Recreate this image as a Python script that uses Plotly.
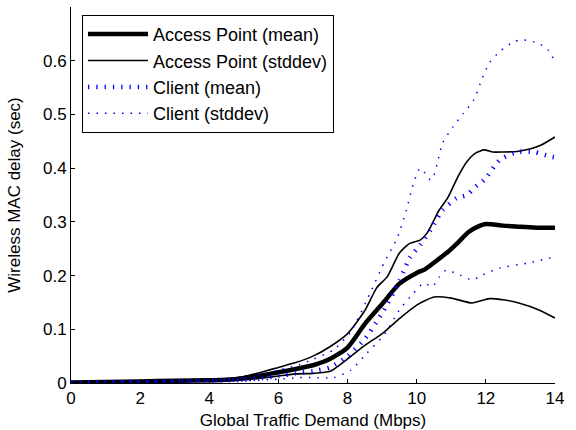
import plotly.graph_objects as go

# Access Point mean
ap_mean_x = [0, 1, 2, 3, 4, 4.5, 5, 5.5, 6, 6.5, 7, 7.5, 8, 8.5, 9, 9.5, 10, 10.25, 10.6, 10.9, 11.2, 11.5, 11.8, 12, 12.5, 13, 13.5, 14]
ap_mean_y = [0.001, 0.002, 0.003, 0.004, 0.005, 0.006, 0.009, 0.014, 0.02, 0.026, 0.033, 0.045, 0.066, 0.11, 0.147, 0.185, 0.205, 0.212, 0.229, 0.244, 0.262, 0.281, 0.292, 0.296, 0.293, 0.291, 0.289, 0.289]

# Access Point stddev (upper / lower)
ap_up_x = [0, 1, 2, 3, 4, 4.5, 5, 5.5, 6, 6.5, 7, 7.5, 8, 8.5, 8.85, 9.15, 9.5, 9.8, 10.1, 10.3, 10.65, 10.9, 11.2, 11.45, 11.7, 11.95, 12.2, 12.5, 12.9, 13.3, 13.6, 14]
ap_up_y = [0.002, 0.003, 0.004, 0.005, 0.007, 0.008, 0.012, 0.02, 0.029, 0.038, 0.05, 0.068, 0.092, 0.135, 0.178, 0.198, 0.242, 0.26, 0.266, 0.279, 0.322, 0.345, 0.385, 0.412, 0.428, 0.434, 0.43, 0.43, 0.431, 0.436, 0.443, 0.458]
ap_lo_x = [0, 1, 2, 3, 4, 5, 5.5, 6, 6.5, 7, 7.5, 8, 8.5, 9, 9.5, 10, 10.5, 11, 11.6, 12.1, 12.5, 13, 13.5, 14]
ap_lo_y = [0.001, 0.001, 0.002, 0.003, 0.004, 0.006, 0.009, 0.013, 0.017, 0.018, 0.022, 0.045, 0.07, 0.092, 0.12, 0.145, 0.16, 0.158, 0.149, 0.157, 0.155, 0.148, 0.137, 0.121]

# Client mean
cl_mean_x = [0, 1, 2, 3, 4, 5, 5.5, 6, 6.5, 7, 7.5, 8, 8.5, 9, 9.5, 9.8, 10.1, 10.4, 10.75, 11.15, 11.45, 11.75, 11.95, 12.4, 12.9, 13.4, 13.85, 14]
cl_mean_y = [0.001, 0.001, 0.002, 0.003, 0.004, 0.006, 0.009, 0.013, 0.018, 0.022, 0.029, 0.05, 0.082, 0.13, 0.19, 0.233, 0.257, 0.285, 0.322, 0.344, 0.35, 0.368, 0.378, 0.415, 0.43, 0.43, 0.422, 0.42]

# Client stddev (upper / lower)
cl_up_x = [0, 1, 2, 3, 4, 5, 5.5, 6, 6.6, 7, 7.6, 8.1, 8.65, 9.05, 9.45, 9.7, 9.9, 10.1, 10.25, 10.4, 10.5, 10.6, 10.75, 11.05, 11.35, 11.65, 11.9, 12.1, 12.4, 12.8, 13.05, 13.5, 13.8, 14]
cl_up_y = [0.002, 0.003, 0.004, 0.005, 0.006, 0.01, 0.016, 0.024, 0.034, 0.044, 0.062, 0.096, 0.167, 0.223, 0.272, 0.322, 0.37, 0.40, 0.39, 0.378, 0.387, 0.41, 0.447, 0.477, 0.502, 0.527, 0.568, 0.596, 0.617, 0.635, 0.639, 0.633, 0.62, 0.598]
cl_lo_x = [0, 1, 2, 3, 4, 5, 6, 6.6, 7, 7.6, 8.1, 8.55, 9.05, 9.5, 9.9, 10.2, 10.45, 10.65, 10.85, 11.25, 11.6, 11.9, 12.4, 13.2, 14]
cl_lo_y = [0, 0.001, 0.001, 0.002, 0.003, 0.004, 0.007, 0.01, 0.01, 0.01, 0.024, 0.055, 0.089, 0.136, 0.167, 0.186, 0.179, 0.197, 0.21, 0.201, 0.192, 0.201, 0.214, 0.223, 0.235]

x_ticks = [0, 2, 4, 6, 8, 10, 12, 14]
y_ticks = [0, 0.1, 0.2, 0.3, 0.4, 0.5, 0.6]
y_tick_text = ["0", "0.1", "0.2", "0.3", "0.4", "0.5", "0.6"]

FONT = "Liberation Sans, Arial, sans-serif"
BLUE = "#0000ff"
SPL = dict(shape="spline", smoothing=0.6)

fig = go.Figure()
fig.add_trace(go.Scatter(x=ap_mean_x, y=ap_mean_y, mode="lines", name="Access Point (mean)",
                         line=dict(color="black", width=4.5, **SPL)))
fig.add_trace(go.Scatter(x=ap_up_x, y=ap_up_y, mode="lines", name="Access Point (stddev)",
                         line=dict(color="black", width=1.6, **SPL), legendgroup="apsd"))
fig.add_trace(go.Scatter(x=ap_lo_x, y=ap_lo_y, mode="lines", name="Access Point (stddev)",
                         line=dict(color="black", width=1.6, **SPL), legendgroup="apsd", showlegend=False))
fig.add_trace(go.Scatter(x=cl_mean_x, y=cl_mean_y, mode="lines", name="Client (mean)",
                         line=dict(color=BLUE, width=4.5, dash="1.3px,7px", **SPL)))
fig.add_trace(go.Scatter(x=cl_up_x, y=cl_up_y, mode="lines", name="Client (stddev)",
                         line=dict(color=BLUE, width=1.5, dash="1.5px,7px", **SPL), legendgroup="clsd"))
fig.add_trace(go.Scatter(x=cl_lo_x, y=cl_lo_y, mode="lines", name="Client (stddev)",
                         line=dict(color=BLUE, width=1.5, dash="1.5px,7px", **SPL), legendgroup="clsd",
                         showlegend=False))

fig.update_layout(
    width=576, height=430,
    margin=dict(l=71, r=21, t=7, b=47),
    paper_bgcolor="white", plot_bgcolor="white",
    font=dict(family=FONT, size=16, color="black"),
    showlegend=True,
    legend=dict(x=0.0227, y=0.979, xanchor="left", yanchor="top",
                bgcolor="white", bordercolor="black", borderwidth=1,
                font=dict(family=FONT, size=18, color="black"),
                tracegroupgap=0, itemwidth=60),
    xaxis=dict(range=[0, 14], tickvals=x_ticks, ticks="inside", ticklen=4, tickcolor="black",
               showline=True, linecolor="black", linewidth=1, showgrid=False, zeroline=False,
               automargin=False,
               title=dict(text="Global Traffic Demand (Mbps)", standoff=6, font=dict(size=17)),
               tickfont=dict(size=17)),
    yaxis=dict(range=[0, 0.7], tickvals=y_ticks, ticktext=y_tick_text, ticks="inside", ticklen=4,
               tickcolor="black", showline=True, linecolor="black", linewidth=1, showgrid=False,
               zeroline=False, automargin=False,
               title=dict(text="Wireless MAC delay (sec)", standoff=18, font=dict(size=17)),
               tickfont=dict(size=17)),
)

fig.write_html("out.html", config={"displayModeBar": False},
               post_script="document.body.style.margin='0';document.body.style.overflow='hidden';")
